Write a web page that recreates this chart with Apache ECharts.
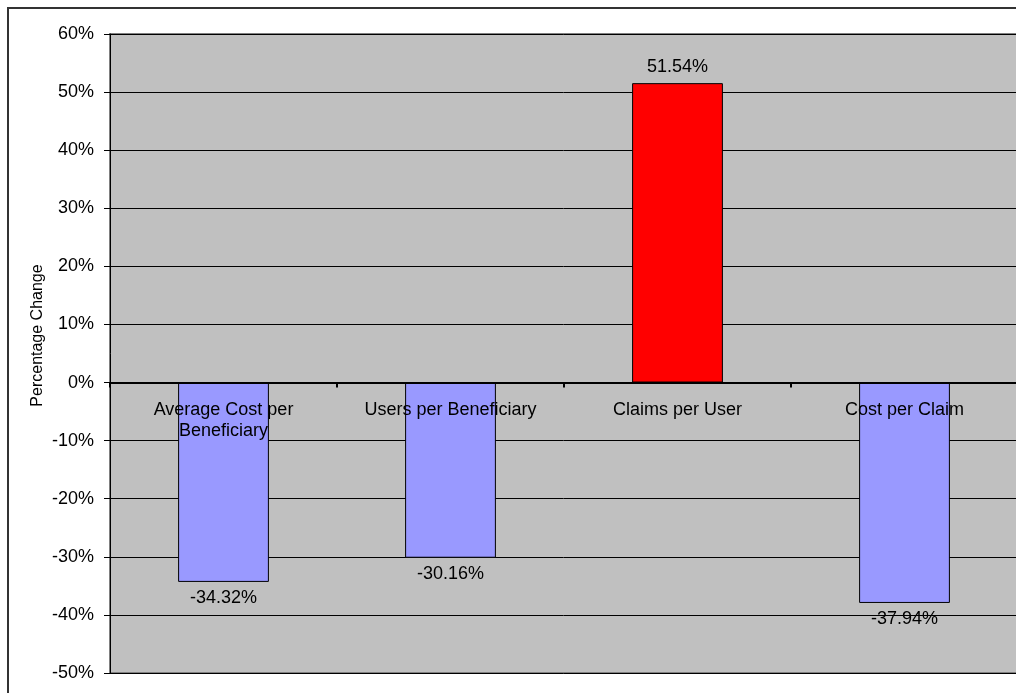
<!DOCTYPE html>
<html>
<head>
    <meta charset="utf-8" />
    <title>percentage change</title>
    <script src="https://cdn.jsdelivr.net/npm/echarts@6/dist/echarts.min.js"></script>
    <style>
        html, body { margin: 0; padding: 0; background: #fff; }
        #container { width: 1016px; height: 693px; }
    </style>
</head>
<body>
    <div id="container"></div>
</body>
</html>
<script>
    var categories = ["Average Cost per\nBeneficiary", "Users per Beneficiary", "Claims per User", "Cost per Claim"];
    var changeValues = [-34.32, -30.16, 51.54, -37.94];   // percent
    var axisMin = -50, axisMax = 60, axisStep = 10;

    var fontName = "Liberation Sans, Arial, sans-serif";

    // plot box (px)
    var gridTop = 34, gridBottom = 20, chartH = 693;
    var plotH = chartH - gridTop - gridBottom;
    // move the category axis up to the 0% line (labels go with it)
    var zeroOffset = -(plotH * (0 - axisMin) / (axisMax - axisMin));

    // bars: red when up, lavender when down
    var barData = changeValues.map(function (v) {
        return {
            value: v,
            itemStyle: { color: v >= 0 ? "#FF0000" : "#9999FF" },
            label: { position: v >= 0 ? "top" : "bottom" }
        };
    });

    var myChart = echarts.init(document.getElementById("container"), null, { renderer: "canvas" });

    myChart.setOption({
        animation: false,
        textStyle: { fontFamily: fontName },
        graphic: [{
            type: "rect",
            shape: { x: 8, y: 8, width: 1100, height: 800 },
            style: { fill: "none", stroke: "#333", lineWidth: 2 },
            z: 0
        }],
        grid: {
            show: true,
            left: 110, top: gridTop, right: -2, bottom: gridBottom,
            outerBoundsMode: "none",
            containLabel: false,
            backgroundColor: "#C0C0C0",
            borderColor: "#808080",
            borderWidth: 2
        },
        xAxis: {
            type: "category",
            data: categories,
            z: 5,
            offset: zeroOffset,
            axisLine: { onZero: false, lineStyle: { color: "#000", width: 2 } },
            axisTick: { show: true, length: 5, lineStyle: { color: "#000", width: 2 } },
            axisLabel: { color: "#000", fontSize: 18, margin: 17, lineHeight: 21, interval: 0 },
            splitLine: { show: false }
        },
        yAxis: {
            type: "value",
            min: axisMin, max: axisMax, interval: axisStep,
            name: "Percentage Change",
            nameLocation: "middle",
            nameGap: 64,
            nameMoveOverlap: false,
            nameTextStyle: { color: "#000", fontSize: 16, padding: [0, 0, 0, 36] },
            axisLine: { show: true, lineStyle: { color: "#000", width: 1 } },
            axisTick: { show: true, length: 6, lineStyle: { color: "#000" } },
            axisLabel: { color: "#000", fontSize: 18, margin: 16, formatter: "{value}%" },
            splitLine: { show: true, lineStyle: { color: "#000", width: 1 } }
        },
        series: [{
            type: "bar",
            data: barData,
            barWidth: "40%",
            itemStyle: { borderColor: "#000", borderWidth: 1 },
            label: {
                show: true,
                color: "#000",
                fontSize: 18,
                distance: 7,
                formatter: function (p) { return p.value.toFixed(2) + "%"; }
            }
        }]
    });
</script>
